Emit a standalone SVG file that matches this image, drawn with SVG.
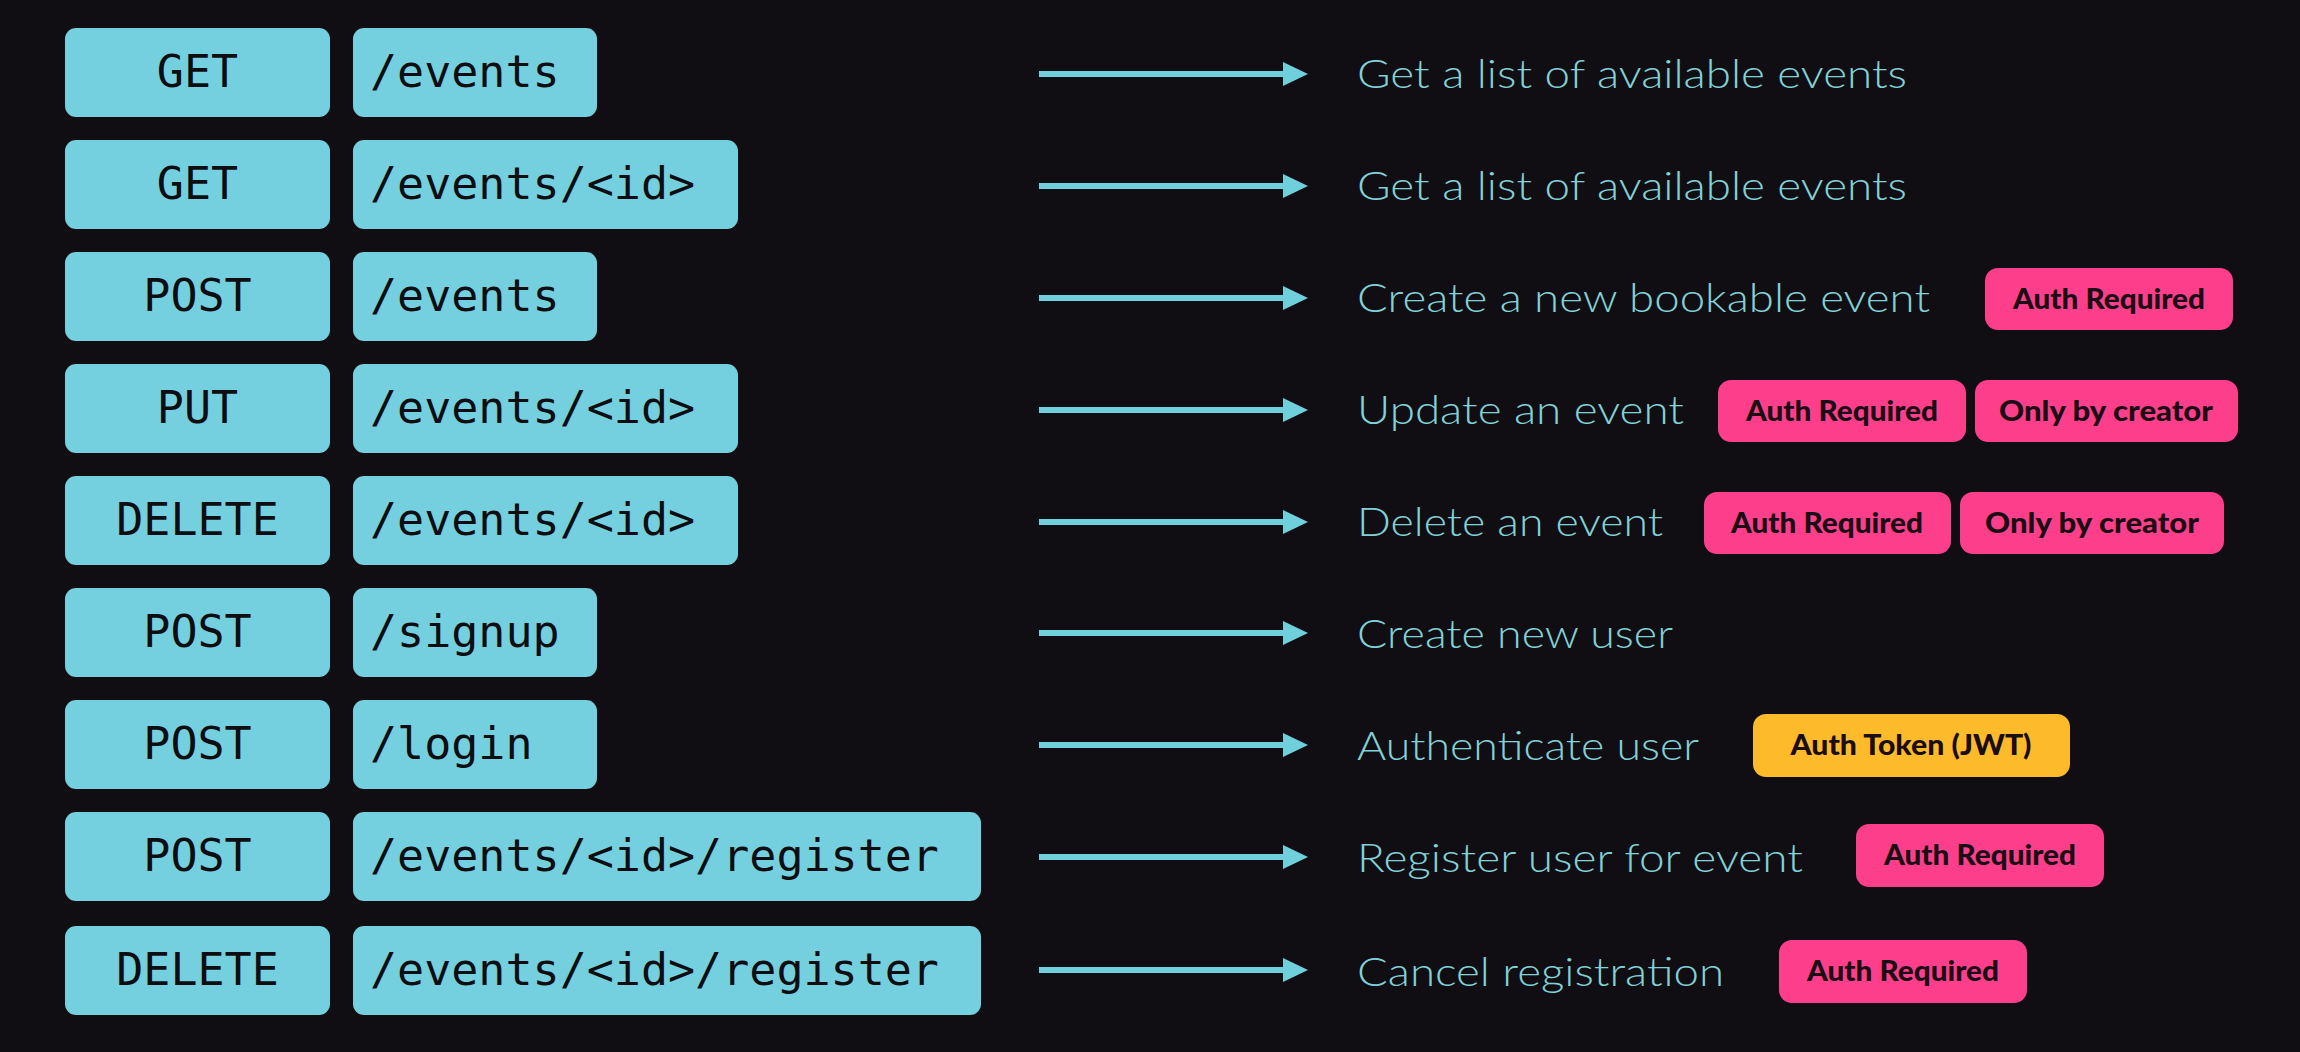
<svg xmlns="http://www.w3.org/2000/svg" width="2300" height="1052" viewBox="0 0 2300 1052">
<defs>
<style>
.bg{fill:#100e13}
.box{fill:#74d0de}
.mono{font-family:"DejaVu Sans Mono","Liberation Mono",monospace;font-size:45px;fill:#0d0d12}
.mid{text-anchor:middle}
.desc{font-family:Lato,"Noto Sans","Liberation Sans",sans-serif;font-weight:300;font-size:40px;fill:#80d2d8}
.conn{stroke:#6fcfdb;stroke-width:6;fill:none}
.pink{fill:#fd3f8b}
.yellow{fill:#fdbb2c}
.badge{font-family:Lato,"Noto Sans","Liberation Sans",sans-serif;font-weight:900;font-size:29px;fill:#1a0d14;text-anchor:middle}
</style>
<marker id="ah" markerUnits="userSpaceOnUse" markerWidth="26" markerHeight="24" refX="0" refY="12" orient="auto">
<path d="M0,0 L25,12 L0,24 Z" fill="#6fcfdb"/>
</marker>
</defs>
<rect class="bg" x="0" y="0" width="2300" height="1052"/>

<g id="connectors">
<path class="conn" d="M1039,74 H1283" marker-end="url(#ah)"/>
<path class="conn" d="M1039,186 H1283" marker-end="url(#ah)"/>
<path class="conn" d="M1039,298 H1283" marker-end="url(#ah)"/>
<path class="conn" d="M1039,410 H1283" marker-end="url(#ah)"/>
<path class="conn" d="M1039,522 H1283" marker-end="url(#ah)"/>
<path class="conn" d="M1039,633 H1283" marker-end="url(#ah)"/>
<path class="conn" d="M1039,745 H1283" marker-end="url(#ah)"/>
<path class="conn" d="M1039,857 H1283" marker-end="url(#ah)"/>
<path class="conn" d="M1039,970 H1283" marker-end="url(#ah)"/>
</g>

<g id="row1">
<rect class="box" x="65" y="28" width="265" height="89" rx="11"/>
<text class="mono mid" x="197.5" y="87">GET</text>
<rect class="box" x="353" y="28" width="244" height="89" rx="11"/>
<text class="mono" x="370" y="87">/events</text>
<text class="desc" x="1357" y="88" textLength="550" lengthAdjust="spacingAndGlyphs">Get a list of available events</text>
</g>

<g id="row2">
<rect class="box" x="65" y="140" width="265" height="89" rx="11"/>
<text class="mono mid" x="197.5" y="199">GET</text>
<rect class="box" x="353" y="140" width="385" height="89" rx="11"/>
<text class="mono" x="370" y="199">/events/&lt;id&gt;</text>
<text class="desc" x="1357" y="200" textLength="550" lengthAdjust="spacingAndGlyphs">Get a list of available events</text>
</g>

<g id="row3">
<rect class="box" x="65" y="252" width="265" height="89" rx="11"/>
<text class="mono mid" x="197.5" y="311">POST</text>
<rect class="box" x="353" y="252" width="244" height="89" rx="11"/>
<text class="mono" x="370" y="311">/events</text>
<text class="desc" x="1357" y="312" textLength="573" lengthAdjust="spacingAndGlyphs">Create a new bookable event</text>
<rect class="pink" x="1985" y="268" width="248" height="62" rx="13"/>
<text class="badge" x="2109" y="309" textLength="192" lengthAdjust="spacingAndGlyphs">Auth Required</text>
</g>

<g id="row4">
<rect class="box" x="65" y="364" width="265" height="89" rx="11"/>
<text class="mono mid" x="197.5" y="423">PUT</text>
<rect class="box" x="353" y="364" width="385" height="89" rx="11"/>
<text class="mono" x="370" y="423">/events/&lt;id&gt;</text>
<text class="desc" x="1357" y="424" textLength="327" lengthAdjust="spacingAndGlyphs">Update an event</text>
<rect class="pink" x="1718" y="380" width="248" height="62" rx="13"/>
<text class="badge" x="1842" y="421" textLength="192" lengthAdjust="spacingAndGlyphs">Auth Required</text>
<rect class="pink" x="1975" y="380" width="263" height="62" rx="13"/>
<text class="badge" x="2106" y="421" textLength="214" lengthAdjust="spacingAndGlyphs">Only by creator</text>
</g>

<g id="row5">
<rect class="box" x="65" y="476" width="265" height="89" rx="11"/>
<text class="mono mid" x="197.5" y="535">DELETE</text>
<rect class="box" x="353" y="476" width="385" height="89" rx="11"/>
<text class="mono" x="370" y="535">/events/&lt;id&gt;</text>
<text class="desc" x="1357" y="536" textLength="306" lengthAdjust="spacingAndGlyphs">Delete an event</text>
<rect class="pink" x="1704" y="492" width="247" height="62" rx="13"/>
<text class="badge" x="1827" y="533" textLength="192" lengthAdjust="spacingAndGlyphs">Auth Required</text>
<rect class="pink" x="1960" y="492" width="264" height="62" rx="13"/>
<text class="badge" x="2092" y="533" textLength="214" lengthAdjust="spacingAndGlyphs">Only by creator</text>
</g>

<g id="row6">
<rect class="box" x="65" y="588" width="265" height="89" rx="11"/>
<text class="mono mid" x="197.5" y="647">POST</text>
<rect class="box" x="353" y="588" width="244" height="89" rx="11"/>
<text class="mono" x="370" y="647">/signup</text>
<text class="desc" x="1357" y="648" textLength="316" lengthAdjust="spacingAndGlyphs">Create new user</text>
</g>

<g id="row7">
<rect class="box" x="65" y="700" width="265" height="89" rx="11"/>
<text class="mono mid" x="197.5" y="759">POST</text>
<rect class="box" x="353" y="700" width="244" height="89" rx="11"/>
<text class="mono" x="370" y="759">/login</text>
<text class="desc" x="1357" y="760" textLength="342" lengthAdjust="spacingAndGlyphs">Authenticate user</text>
<rect class="yellow" x="1753" y="714" width="317" height="63" rx="13"/>
<text class="badge" x="1911" y="755" textLength="241" lengthAdjust="spacingAndGlyphs">Auth Token (JWT)</text>
</g>

<g id="row8">
<rect class="box" x="65" y="812" width="265" height="89" rx="11"/>
<text class="mono mid" x="197.5" y="871">POST</text>
<rect class="box" x="353" y="812" width="628" height="89" rx="11"/>
<text class="mono" x="370" y="871">/events/&lt;id&gt;/register</text>
<text class="desc" x="1357" y="872" textLength="446" lengthAdjust="spacingAndGlyphs">Register user for event</text>
<rect class="pink" x="1856" y="824" width="248" height="63" rx="13"/>
<text class="badge" x="1980" y="865" textLength="192" lengthAdjust="spacingAndGlyphs">Auth Required</text>
</g>

<g id="row9">
<rect class="box" x="65" y="926" width="265" height="89" rx="11"/>
<text class="mono mid" x="197.5" y="985">DELETE</text>
<rect class="box" x="353" y="926" width="628" height="89" rx="11"/>
<text class="mono" x="370" y="985">/events/&lt;id&gt;/register</text>
<text class="desc" x="1357" y="986" textLength="367" lengthAdjust="spacingAndGlyphs">Cancel registration</text>
<rect class="pink" x="1779" y="940" width="248" height="63" rx="13"/>
<text class="badge" x="1903" y="981" textLength="192" lengthAdjust="spacingAndGlyphs">Auth Required</text>
</g>
</svg>
